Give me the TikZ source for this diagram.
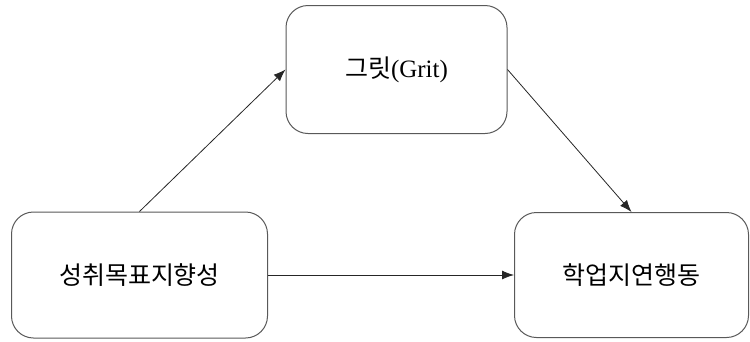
\documentclass[tikz,border=0pt]{standalone}
\usepackage{fontspec}
\setmainfont{Liberation Serif}
\newfontfamily\kr{Noto Sans CJK KR}
\usetikzlibrary{arrows.meta}
\begin{document}
\begin{tikzpicture}[x=1pt,y=-1pt,
  box/.style={draw=black!65, line width=1pt, rounded corners=22pt, fill=white, inner sep=0pt},
  conn/.style={draw=black!85, line width=0.8pt, -{Latex[length=12pt,width=9pt]}},
  lbl/.style={font=\fontsize{25}{30}\selectfont}]
\useasboundingbox (0,0) rectangle (750,341);
\node[box, minimum width=221pt, minimum height=128pt, lbl] (grit) at (396.5,69.5) {{\kr 그릿}(Grit)};
\node[box, minimum width=256pt, minimum height=126pt, lbl] (goal) at (139.5,275) {\kr 성취목표지향성};
\node[box, minimum width=234pt, minimum height=125pt, lbl] (proc) at (631.5,275) {\kr 학업지연행동};
\draw[conn] (goal.north) -- (grit.west);
\draw[conn] (grit.east) -- (proc.north);
\draw[conn] (goal.east) -- (proc.west);
\end{tikzpicture}
\end{document}
